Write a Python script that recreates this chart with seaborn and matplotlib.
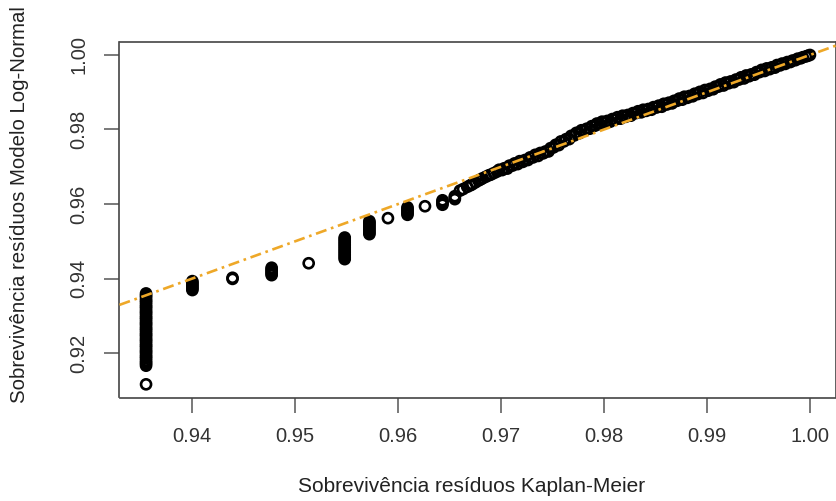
import numpy as np
import pandas as pd
import matplotlib
matplotlib.use("Agg")
import matplotlib.pyplot as plt
import seaborn as sns

# Kaplan-Meier survival levels that hold many tied residuals (vertical columns)
km_levels = [0.9355, 0.9400, 0.9439, 0.9477, 0.9513, 0.9548,
             0.9572, 0.9590, 0.9609, 0.9626, 0.9643, 0.9655]

# Log-normal model survival for the residuals sharing each KM level
model_at_level = [
    [0.9116, 0.9166, 0.9171, 0.9175, 0.9180, 0.9186, 0.9190, 0.9195, 0.9201,
     0.9205, 0.9210, 0.9216, 0.9220, 0.9225, 0.9231, 0.9235, 0.9240, 0.9246,
     0.9250, 0.9255, 0.9261, 0.9265, 0.9270, 0.9276, 0.9280, 0.9285, 0.9291,
     0.9295, 0.9300, 0.9306, 0.9310, 0.9315, 0.9321, 0.9325, 0.9330, 0.9336,
     0.9340, 0.9345, 0.9351, 0.9355, 0.9360],
    [0.9369, 0.9373, 0.9377, 0.9381, 0.9385, 0.9389, 0.9393],
    [0.9399, 0.9402],
    [0.9409, 0.9413, 0.9417, 0.9421, 0.9425, 0.9429],
    [0.9441],
    [0.9452, 0.9456, 0.9461, 0.9465, 0.9470, 0.9474, 0.9479, 0.9483, 0.9488,
     0.9492, 0.9497, 0.9501, 0.9506, 0.9510],
    [0.9519, 0.9523, 0.9528, 0.9532, 0.9537, 0.9541, 0.9546, 0.9550, 0.9554],
    [0.9562],
    [0.9571, 0.9575, 0.9579, 0.9583, 0.9587, 0.9591],
    [0.9594],
    [0.9598, 0.9602, 0.9606, 0.9610],
    [0.9613, 0.9617, 0.9621],
]

# Upper part of the curve, where KM levels are nearly continuous
km_upper = [
    0.9660, 0.9663, 0.9667, 0.9670, 0.9672, 0.9675, 0.9678, 0.9680, 0.9682,
    0.9685, 0.9688, 0.9690, 0.9693, 0.9696, 0.9698, 0.9701, 0.9703, 0.9706,
    0.9708, 0.9711, 0.9713, 0.9716, 0.9718, 0.9721, 0.9723, 0.9726, 0.9728,
    0.9731, 0.9733, 0.9736, 0.9738, 0.9741, 0.9743, 0.9746, 0.9748, 0.9751,
    0.9753, 0.9756, 0.9758, 0.9761, 0.9763, 0.9766, 0.9768, 0.9771, 0.9773,
    0.9776, 0.9778, 0.9781, 0.9783, 0.9786, 0.9788, 0.9791, 0.9793, 0.9796,
    0.9798, 0.9801, 0.9803, 0.9806, 0.9808, 0.9811, 0.9813, 0.9816, 0.9818,
    0.9821, 0.9823, 0.9826, 0.9828, 0.9831, 0.9833, 0.9836, 0.9838, 0.9841,
    0.9843, 0.9846, 0.9848, 0.9851, 0.9853, 0.9856, 0.9858, 0.9861, 0.9863,
    0.9866, 0.9868, 0.9871, 0.9873, 0.9876, 0.9878, 0.9881, 0.9883, 0.9886,
    0.9888, 0.9891, 0.9893, 0.9896, 0.9898, 0.9901, 0.9903, 0.9906, 0.9908,
    0.9911, 0.9913, 0.9916, 0.9918, 0.9921, 0.9923, 0.9926, 0.9928, 0.9931,
    0.9933, 0.9936, 0.9938, 0.9941, 0.9943, 0.9946, 0.9948, 0.9951, 0.9953,
    0.9956, 0.9958, 0.9961, 0.9963, 0.9966, 0.9968, 0.9971, 0.9973, 0.9976,
    0.9978, 0.9981, 0.9983, 0.9986, 0.9988, 0.9991, 0.9993, 0.9996, 0.9998,
    1.0000,
]
model_upper = [
    0.9636, 0.9640, 0.9646, 0.9650, 0.9653, 0.9658, 0.9663, 0.9666, 0.9669,
    0.9673, 0.9677, 0.9679, 0.9683, 0.9687, 0.9692, 0.9691, 0.9696, 0.9695,
    0.9703, 0.9703, 0.9709, 0.9707, 0.9715, 0.9713, 0.9718, 0.9718, 0.9725,
    0.9725, 0.9732, 0.9729, 0.9737, 0.9736, 0.9741, 0.9741, 0.9750, 0.9752,
    0.9759, 0.9758, 0.9768, 0.9768, 0.9774, 0.9774, 0.9783, 0.9784, 0.9791,
    0.9790, 0.9798, 0.9797, 0.9802, 0.9802, 0.9809, 0.9810, 0.9816, 0.9814,
    0.9821, 0.9819, 0.9823, 0.9821, 0.9828, 0.9827, 0.9833, 0.9829, 0.9837,
    0.9834, 0.9839, 0.9837, 0.9844, 0.9844, 0.9849, 0.9846, 0.9853, 0.9850,
    0.9855, 0.9853, 0.9860, 0.9859, 0.9864, 0.9861, 0.9869, 0.9867, 0.9872,
    0.9870, 0.9877, 0.9877, 0.9883, 0.9880, 0.9888, 0.9885, 0.9890, 0.9889,
    0.9896, 0.9895, 0.9901, 0.9898, 0.9906, 0.9904, 0.9909, 0.9908, 0.9915,
    0.9915, 0.9921, 0.9918, 0.9926, 0.9924, 0.9929, 0.9927, 0.9934, 0.9934,
    0.9940, 0.9937, 0.9945, 0.9943, 0.9948, 0.9947, 0.9954, 0.9954, 0.9960,
    0.9957, 0.9964, 0.9962, 0.9967, 0.9966, 0.9973, 0.9972, 0.9977, 0.9976,
    0.9981, 0.9981, 0.9985, 0.9986, 0.9990, 0.9991, 0.9994, 0.9996, 0.9998,
    1.0000,
]

x_ticks = [0.94, 0.95, 0.96, 0.97, 0.98, 0.99, 1.00]
y_ticks = [0.92, 0.94, 0.96, 0.98, 1.00]

x_label = "Sobrevivência resíduos Kaplan-Meier"
y_label = "Sobrevivência resíduos Modelo Log-Normal"

# Reference line y = x
ref_intercept = 0.0
ref_slope = 1.0

# ---- assemble the points ----
km_all, model_all = [], []
for lvl, vals in zip(km_levels, model_at_level):
    km_all.extend([lvl] * len(vals))
    model_all.extend(vals)
km_all.extend(km_upper)
model_all.extend(model_upper)
df = pd.DataFrame({"km": km_all, "model": model_all})

sns.set_theme(style="white")
plt.rcParams["font.family"] = ["Liberation Sans", "DejaVu Sans"]

W, H = 837, 501
fig = plt.figure(figsize=(W / 100, H / 100), dpi=100)
fig.patch.set_facecolor("white")
ax = fig.add_axes([119.5 / W, (H - 397.5) / H, 717 / W, 355.7 / H])

sns.scatterplot(data=df, x="km", y="model", ax=ax, marker="o", s=52,
                facecolors="none", edgecolor="black", linewidth=1.9,
                legend=False, zorder=2)

ax.axline((0.0, ref_intercept), slope=ref_slope, color="#EEA828",
          linewidth=1.9, linestyle=(0, (4.2, 1.8, 1.0, 1.8)), zorder=3)

# R-style 4% padding around the data range
def padded(v):
    lo, hi = min(v), max(v)
    pad = 0.04 * (hi - lo)
    return lo - pad, hi + pad

ax.set_xlim(*padded(km_all))
ax.set_ylim(*padded(model_all))

ax.set_xticks(x_ticks)
ax.set_xticklabels([f"{t:.2f}" for t in x_ticks])
ax.set_yticks(y_ticks)
ax.set_yticklabels([f"{t:.2f}" for t in y_ticks], rotation=90, va="center")

tick_col = "#333333"
ax.tick_params(axis="both", which="major", direction="out", length=10.5,
               width=1.1, color="#555555", labelsize=14.5, labelcolor=tick_col,
               bottom=True, left=True, top=False, right=False)
ax.tick_params(axis="x", pad=11)
ax.tick_params(axis="y", pad=12)

for sp in ax.spines.values():
    sp.set_visible(True)
    sp.set_color("#444444")
    sp.set_linewidth(1.2)

ax.set_xlabel("")
ax.set_ylabel("")
fig.text(472 / W, 1 - 487 / H, x_label, ha="center", va="center",
         fontsize=15, color="#222222")
fig.text(20 / W, 1 - 205 / H, y_label, ha="center", va="center",
         rotation=90, fontsize=14.7, color="#222222")

fig.savefig("out.png", dpi=100, facecolor="white")
